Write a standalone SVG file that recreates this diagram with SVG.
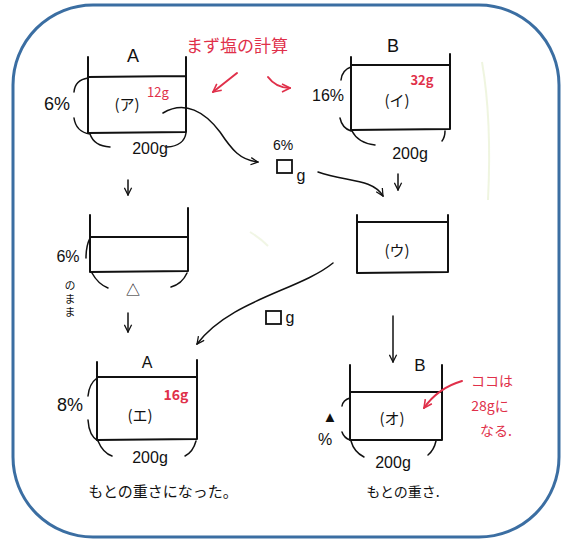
<svg xmlns="http://www.w3.org/2000/svg" width="565" height="540" viewBox="0 0 565 540">
<defs>
<marker id="ah" viewBox="0 0 10 10" refX="9" refY="5" markerWidth="9" markerHeight="9" orient="auto" markerUnits="userSpaceOnUse">
<path d="M1,1 L9,5 L1,9" fill="none" stroke="#111" stroke-width="1.4"/>
</marker>
<marker id="ahr" viewBox="0 0 10 10" refX="9" refY="5" markerWidth="10" markerHeight="10" orient="auto" markerUnits="userSpaceOnUse">
<path d="M1,1 L9,5 L1,9" fill="none" stroke="#e0304a" stroke-width="1.6"/>
</marker>
</defs>
<style>
.b{fill:none;stroke:#111;stroke-width:2;stroke-linecap:round;stroke-linejoin:round}
.t{font-family:"Liberation Sans","Noto Sans CJK JP",sans-serif;fill:#111;text-anchor:middle}
.r{font-family:"Noto Sans CJK JP","Liberation Sans",sans-serif;fill:#e0304a;text-anchor:middle}
.j{font-family:"Noto Sans CJK JP",sans-serif;fill:#111;text-anchor:middle}
.c{fill:none;stroke:#111;stroke-width:1.5;stroke-linecap:round}
.rc{fill:none;stroke:#e0304a;stroke-width:2;stroke-linecap:round}
.sq{fill:none;stroke:#111;stroke-width:1.8}
</style>
<rect x="0" y="0" width="565" height="540" fill="#fff"/>
<rect x="13" y="5" width="546" height="532" rx="80" ry="80" fill="none" stroke="#3b6ea2" stroke-width="3"/>
<path d="M482,62 Q492,120 488,200" fill="none" stroke="#e4eecb" stroke-width="2" opacity="0.6"/>
<path d="M250,232 Q260,238 268,246" fill="none" stroke="#e4eecb" stroke-width="2" opacity="0.5"/>

<g id="title">
<text class="r" x="237" y="52" font-size="17">まず塩の計算</text>
</g>

<g id="beakerA1">
<text class="t" x="133" y="62" font-size="18">A</text>
<path class="b" d="M88,57 L88,133 L186,132 L186,57 M88,77 L186,76"/>
<text class="j" x="127" y="110" font-size="15">(ア)</text>
<text class="r" x="158" y="97" font-size="13">12g</text>
<text class="t" x="57" y="110" font-size="18">6%</text>
<path class="c" d="M88,78 Q75,80 74,92 M74,118 Q76,132 90,134 M90,134 Q94,146 110,147 M186,133 Q184,146 167,147"/>
<text class="t" x="150" y="154" font-size="16">200g</text>
</g>

<g id="beakerB1">
<text class="t" x="393" y="52" font-size="18">B</text>
<path class="b" d="M351,57 L351,130 L450,129 L450,54 M351,65 L450,65"/>
<text class="j" x="397" y="106" font-size="15">(イ)</text>
<text class="r" x="422" y="85" font-size="13" font-weight="bold">32g</text>
<text class="t" x="328" y="101" font-size="16">16%</text>
<path class="c" d="M351,67 Q342,70 341,80 M340,118 Q342,128 351,131 M352,131 Q358,143 375,145 M445,131 Q445,137 442,141"/>
<text class="t" x="410" y="159" font-size="16">200g</text>
</g>

<g id="mid">
<text class="t" x="283" y="150" font-size="14">6%</text>
<rect class="sq" x="277" y="160" width="15" height="13"/>
<text class="t" x="301" y="181" font-size="16">g</text>
</g>

<g id="beakerA2">
<path class="b" d="M90,215 L90,272 L188,271 L188,208 M90,237 L188,237"/>
<text class="t" x="68" y="262" font-size="16">6%</text>
<text class="j" font-size="11" x="70" y="280" writing-mode="vertical-rl" style="text-anchor:start;letter-spacing:2px">のまま</text>
<path class="c" d="M90,238 Q86,246 86,258 M92,273 Q98,284 108,288 M187,273 Q182,284 171,287"/>
<text class="t" x="133" y="295" font-size="14">△</text>
</g>

<g id="beakerU">
<path class="b" d="M357,215 L357,273 L448,272 L448,215 M357,222 L448,222"/>
<text class="j" x="397" y="256" font-size="15">(ウ)</text>
</g>

<g id="beakerE">
<text class="t" x="147" y="368" font-size="16">A</text>
<path class="b" d="M97,362 L97,440 L197,439 L197,360 M97,377 L197,377"/>
<text class="j" x="140" y="421" font-size="15">(エ)</text>
<text class="r" x="176" y="400" font-size="14" font-weight="bold">16g</text>
<text class="t" x="70" y="411" font-size="18">8%</text>
<path class="c" d="M97,378 Q89,384 88,396 M88,420 Q89,436 98,441 M98,441 Q103,453 112,456 M196,441 Q193,452 185,456"/>
<text class="t" x="150" y="463" font-size="16">200g</text>
<text class="j" x="163" y="497" font-size="15">もとの重さになった。</text>
</g>

<g id="beakerO">
<text class="t" x="420" y="371" font-size="17">B</text>
<path class="b" d="M350,365 L350,440 L442,440 L442,365 M350,392 L442,392"/>
<text class="j" x="392" y="424" font-size="15">(オ)</text>
<text class="t" x="330" y="422" font-size="15">▲</text>
<text class="t" x="325" y="445" font-size="16">%</text>
<path class="c" d="M350,398 Q343,400 342,406 M342,432 Q344,438 350,440 M351,441 Q354,452 364,457 M436,441 Q434,450 428,455"/>
<text class="t" x="393" y="468" font-size="16">200g</text>
<text class="j" x="403" y="497" font-size="14">もとの重さ.</text>
</g>

<g id="note">
<text class="r" x="492" y="386" font-size="14">ココは</text>
<text class="r" x="490" y="411" font-size="14">28gに</text>
<text class="r" x="496" y="436" font-size="14">なる.</text>
</g>

<g id="connectors">
<path class="c" d="M163,113 C185,100 205,112 220,132 C232,150 240,160 258,162" marker-end="url(#ah)"/>
<path class="c" d="M318,172 C345,182 372,178 383,196" marker-end="url(#ah)"/>
<path class="c" d="M398,174 L398,190" marker-end="url(#ah)"/>
<path class="c" d="M128,180 L128,195" marker-end="url(#ah)"/>
<path class="c" d="M128,313 L128,332" marker-end="url(#ah)"/>
<path class="c" d="M333,263 C300,290 230,300 197,344" marker-end="url(#ah)"/>
<rect class="sq" x="266" y="311" width="15" height="13"/>
<text class="t" x="290" y="323" font-size="16">g</text>
<path class="c" d="M393,316 L393,362" marker-end="url(#ah)"/>
<path class="rc" d="M237,73 L213,92" marker-end="url(#ahr)"/>
<path class="rc" d="M268,77 Q276,88 290,88" marker-end="url(#ahr)"/>
<path class="rc" d="M462,381 Q438,388 424,408" marker-end="url(#ahr)"/>
</g>
</svg>
